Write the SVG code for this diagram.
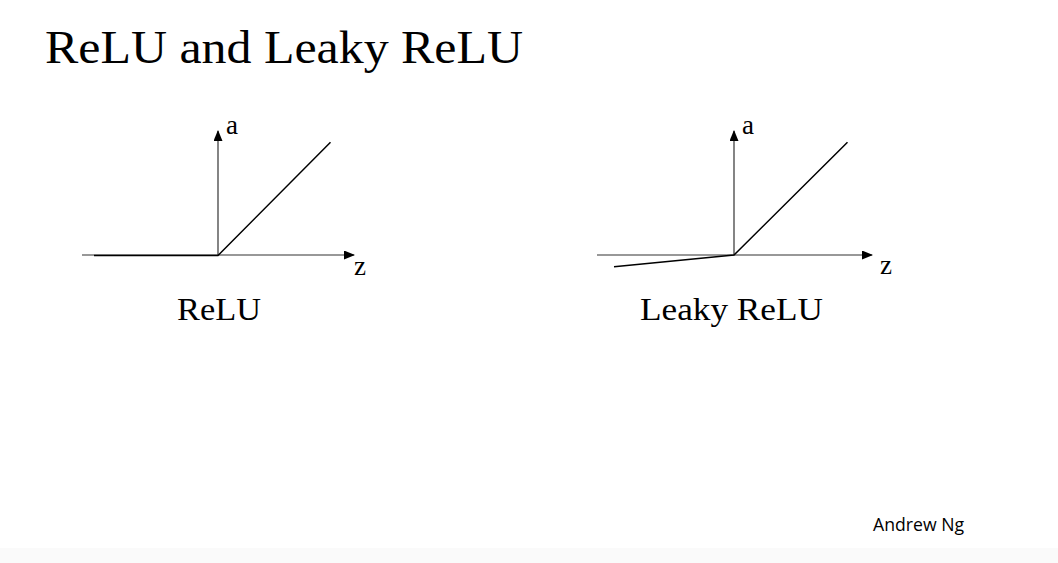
<svg xmlns="http://www.w3.org/2000/svg" width="1058" height="563" viewBox="0 0 1058 563">
<style>
.serif{font-family:"Liberation Serif","DejaVu Serif",serif;fill:#000}
.axis{stroke:#333;stroke-width:1.2;fill:none}
.fn{stroke:#000;stroke-width:1.5;fill:none}
</style>
<defs>
<marker id="arr" markerWidth="11" markerHeight="9" refX="10" refY="4.5" orient="auto" markerUnits="userSpaceOnUse">
<path d="M0,0 L11,4.5 L0,9 Z" fill="#000"/>
</marker>
</defs>
<rect width="1058" height="563" fill="#fff"/>
<rect y="548" width="1058" height="15" fill="#fafafa"/>
<text id="title" class="serif" x="45" y="63" font-size="46" textLength="478" lengthAdjust="spacingAndGlyphs">ReLU and Leaky ReLU</text>
<g id="connectors">
<line class="axis" x1="82" y1="255" x2="354" y2="255" marker-end="url(#arr)"/>
<line class="axis" x1="218" y1="255" x2="218" y2="131" marker-end="url(#arr)"/>
<line class="axis" x1="597" y1="255" x2="872" y2="255" marker-end="url(#arr)"/>
<line class="axis" x1="734" y1="255" x2="734" y2="131" marker-end="url(#arr)"/>
</g>
<g id="relu">
<polyline class="fn" points="94,255.5 218,255.5 330.5,142.3"/>
<text class="serif" x="226" y="134" font-size="27">a</text>
<text class="serif" x="354" y="275" font-size="27">z</text>
<text class="serif" x="177" y="320" font-size="31" textLength="84" lengthAdjust="spacingAndGlyphs">ReLU</text>
</g>
<g id="leaky-relu">
<polyline class="fn" points="614,266.7 734,255 847.5,142.3"/>
<text class="serif" x="742" y="134" font-size="27">a</text>
<text class="serif" x="880" y="274" font-size="27">z</text>
<text class="serif" x="640" y="320" font-size="31" textLength="183" lengthAdjust="spacingAndGlyphs">Leaky ReLU</text>
</g>
<text id="author" x="873" y="531" font-family="Open Sans, Liberation Sans, sans-serif" font-size="19" textLength="91" lengthAdjust="spacingAndGlyphs" fill="#000">Andrew Ng</text>
</svg>
